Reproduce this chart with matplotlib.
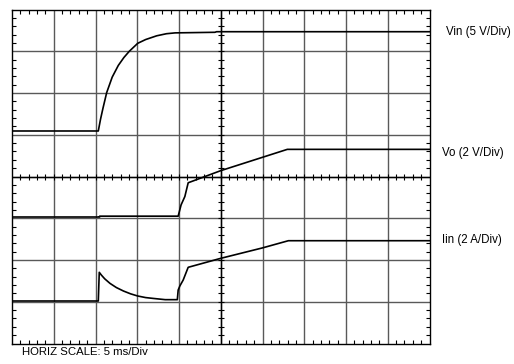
import numpy as np
import matplotlib
matplotlib.use('Agg')
import matplotlib.pyplot as plt

# ========= scope traces (time and level in divisions) =====
vin_t = [0, 2.067, 2.12, 2.18, 2.268, 2.40, 2.546, 2.68, 2.81, 3.011, 3.20, 3.466, 3.70, 3.907, 4.86, 4.90, 10]
vin_v = [5.09, 5.09, 5.37, 5.64, 6.01, 6.38, 6.66, 6.85, 7.00, 7.19, 7.28, 7.37, 7.42, 7.44, 7.454, 7.468, 7.468]

vo_t = [0, 2.1, 2.1, 3.98, 4.05, 4.14, 4.22, 5.0, 6.0, 6.594, 10]
vo_v = [3.03, 3.03, 3.05, 3.05, 3.32, 3.52, 3.85, 4.14, 4.46, 4.65, 4.65]

iin_t = [0, 2.067, 2.09, 2.14, 2.22, 2.347, 2.50, 2.67, 2.84, 3.01, 3.20, 3.38, 3.67, 3.96,
         3.98, 4.02, 4.10, 4.22, 5.0, 6.0, 6.62, 10]
iin_v = [1.018, 1.018, 1.705, 1.64, 1.55, 1.44, 1.34, 1.257, 1.19, 1.138, 1.10, 1.08, 1.05, 1.05,
         1.28, 1.377, 1.52, 1.825, 2.04, 2.29, 2.462, 2.462]

trace_labels = ['Vin (5 V/Div)', 'Vo (2 V/Div)', 'Iin (2 A/Div)']
horiz_label = 'HORIZ SCALE: 5 ms/Div'

n_xdiv = 10
n_ydiv = 8
# ===========================================================

plt.rcParams['font.family'] = ['Liberation Sans', 'DejaVu Sans']

W, H = 514, 364
fig = plt.figure(figsize=(W / 100, H / 100), dpi=100)
ax = fig.add_axes([12 / W, (H - 343.5) / H, 417.5 / W, 334 / H])
ax.set_xlim(0, n_xdiv)
ax.set_ylim(0, n_ydiv)

# graticule
grid_col = '0.35'
for i in range(1, n_xdiv):
    ax.axvline(i, color=grid_col, lw=1.0, zorder=1)
for j in range(1, n_ydiv):
    ax.axhline(j, color=grid_col, lw=1.0, zorder=1)

# minor ticks on the frame
ax.set_xticks(np.arange(0, n_xdiv + 0.01, 1))
ax.set_yticks(np.arange(0, n_ydiv + 0.01, 1))
ax.set_xticks(np.arange(0, n_xdiv + 0.01, 0.2), minor=True)
ax.set_yticks(np.arange(0, n_ydiv + 0.01, 0.2), minor=True)
ax.tick_params(which='both', direction='in', top=True, right=True,
               labelbottom=False, labelleft=False, color='black')
ax.tick_params(which='major', length=0)
ax.tick_params(which='minor', length=3, width=0.8)
for s in ax.spines.values():
    s.set_color('black')
    s.set_linewidth(1.0)

# ticks on the centre crosshair
cx = np.arange(0.2, n_xdiv, 0.2)
cy = np.arange(0.2, n_ydiv, 0.2)
ax.plot(cx, np.full_like(cx, n_ydiv / 2), ls='none', marker='|', ms=5, mew=0.8, color='black', zorder=2)
ax.plot(np.full_like(cy, n_xdiv / 2), cy, ls='none', marker='_', ms=5, mew=0.8, color='black', zorder=2)
ax.axhline(n_ydiv / 2, color='black', lw=1.0, zorder=1.5)
ax.axvline(n_xdiv / 2, color='black', lw=1.0, zorder=1.5)

# traces
for t, v in [(vin_t, vin_v), (vo_t, vo_v), (iin_t, iin_v)]:
    ax.plot(t, v, color='black', lw=1.2, solid_joinstyle='round', zorder=3)

# labels
label_x = [446, 442, 442]
label_y = [31.5, 153, 240]
for txt, x, y in zip(trace_labels, label_x, label_y):
    fig.text(x / W, 1 - y / H, txt, fontsize=8.3, va='center', ha='left')
fig.text(22 / W, 1 - 352 / H, horiz_label, fontsize=8.2, va='center', ha='left')

fig.savefig('out.png', dpi=100)
